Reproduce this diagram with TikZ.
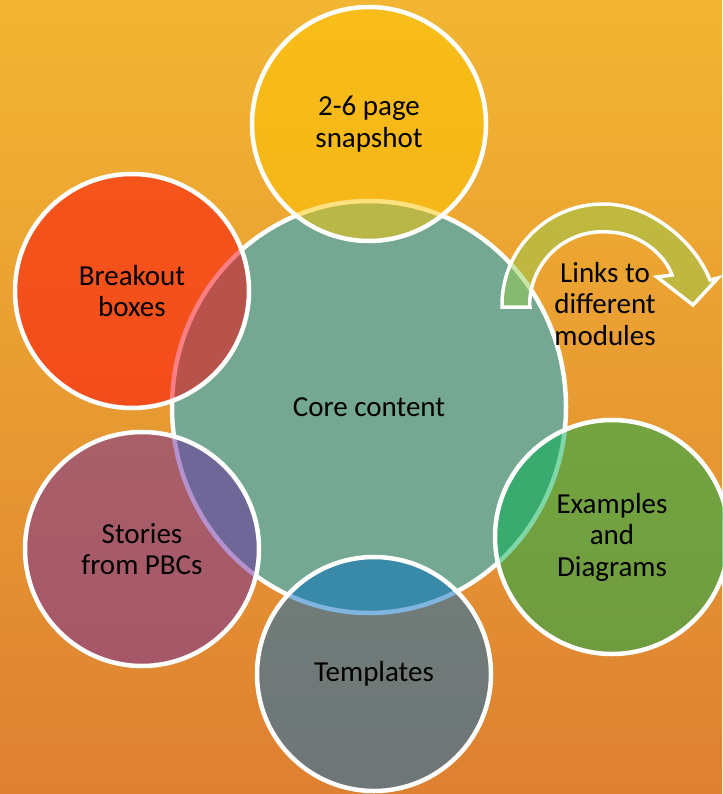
\documentclass[tikz,border=0pt]{standalone}
\usepackage{fontspec}
\setmainfont{Carlito}
\usetikzlibrary{shapes.geometric}

\definecolor{bgtop}{RGB}{242,182,50}
\definecolor{bgbot}{RGB}{222,128,50}
\definecolor{coreteal}{RGB}{116,168,146}
\definecolor{snapyellow}{RGB}{255,198,0}
\definecolor{breakred}{RGB}{253,0,6}
\definecolor{storypurple}{RGB}{108,39,158}
\definecolor{templblue}{RGB}{0,108,190}
\definecolor{examgreen}{RGB}{0,175,78}
\definecolor{linkgreen}{RGB}{148,203,78}

\begin{document}
\begin{tikzpicture}[x=1pt, y=-1pt,
    lbl/.style={font=\fontsize{29}{31.5}\selectfont, align=center, text=black},
    sat/.style={circle, draw=white, line width=4.5pt, fill opacity=0.5,
        text opacity=1, minimum size=234pt, inner sep=0pt, lbl},
    linkarrow/.style={draw=white, line width=3.5pt, fill=linkgreen,
        fill opacity=0.5, line join=miter}]
    \useasboundingbox (0,0) rectangle (722,794);

    % Background
    \shade[top color=bgtop, bottom color=bgbot] (0,0) rectangle (722,794);

    % Core
    \node[ellipse, draw=white, line width=4.5pt, fill=coreteal,
        minimum width=394pt, minimum height=412pt, inner sep=0pt, lbl]
        (core) at (369,407) {Core content};

    % Satellites
    \node[sat, fill=snapyellow] (snap) at (369,124) {2-6 page\\snapshot};
    \node[sat, fill=breakred] (break) at (132,291) {Breakout\\boxes};
    \node[sat, fill=examgreen] (exam) at (612,537) {Examples\\and\\Diagrams};
    \node[sat, fill=templblue] (templ) at (374,674) {Templates};
    \node[sat, fill=storypurple] (story) at (142,549) {Stories\\from PBCs};

    % Curved arrow
    \draw[linkarrow] (530,307) -- (502,307) -- (502,305)
        arc[start angle=180, end angle=300, radius=101]
        .. controls (680,233) and (700,255) .. (710,280)
        -- (718,278) -- (693,305) -- (657,277) -- (672,275)
        .. controls (665,255) and (640,233) .. (609,232)
        arc[start angle=275, end angle=180, radius=73] -- cycle;
    \node[lbl] (links) at (605,304) {Links to\\different\\modules};
\end{tikzpicture}
\end{document}
